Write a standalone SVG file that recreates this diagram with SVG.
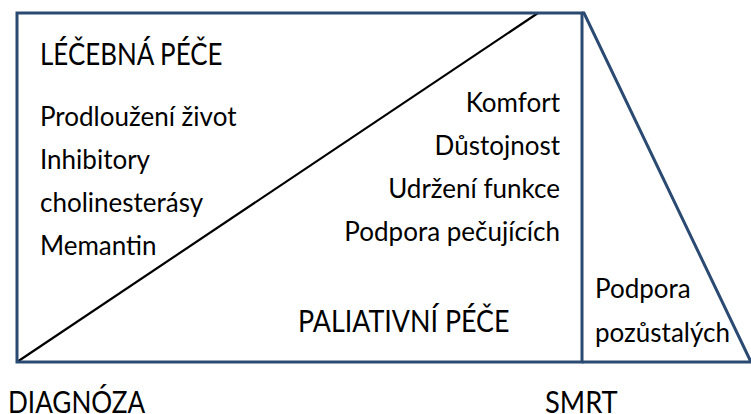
<svg xmlns="http://www.w3.org/2000/svg" width="751" height="414" viewBox="0 0 751 414">
<style>
.frame{fill:none;stroke:#2b4a72;stroke-width:3;stroke-linejoin:miter}
.diag{fill:none;stroke:#000;stroke-width:2.2}
text{font-family:Lato,"Open Sans",sans-serif;fill:#000}
.h{font-size:30px}
.b{font-size:26px}
.r{text-anchor:end}
</style>
<rect width="751" height="414" fill="#fff"/>
<g id="connectors">
<line class="diag" x1="17" y1="362" x2="538" y2="13"/>
</g>
<g id="frame-rect">
<rect class="frame" x="17" y="13" width="565" height="349"/>
</g>
<g id="frame-triangle">
<polyline class="frame" points="582,13 584,13 751,362 582,362"/>
</g>
<g id="lecebna">
<text class="h" transform="translate(40,65) scale(0.865,1)">LÉČEBNÁ PÉČE</text>
<text class="b" x="40" y="126">Prodloužení život</text>
<text class="b" x="40" y="169">Inhibitory</text>
<text class="b" x="40" y="212">cholinesterásy</text>
<text class="b" x="40" y="255">Memantin</text>
</g>
<g id="paliativni">
<text class="b r" x="560" y="112">Komfort</text>
<text class="b r" x="560" y="155">Důstojnost</text>
<text class="b r" x="560" y="198">Udržení funkce</text>
<text class="b r" x="560" y="241">Podpora pečujících</text>
<text class="h" transform="translate(298,332) scale(0.895,1)">PALIATIVNÍ PÉČE</text>
</g>
<g id="pozustali">
<text class="b" x="595" y="298">Podpora</text>
<text class="b" x="595" y="342">pozůstalých</text>
</g>
<g id="diagnoza">
<text class="h" transform="translate(8,413) scale(0.87,1)">DIAGNÓZA</text>
</g>
<g id="smrt">
<text class="h" transform="translate(545,413) scale(0.91,1)">SMRT</text>
</g>
</svg>
